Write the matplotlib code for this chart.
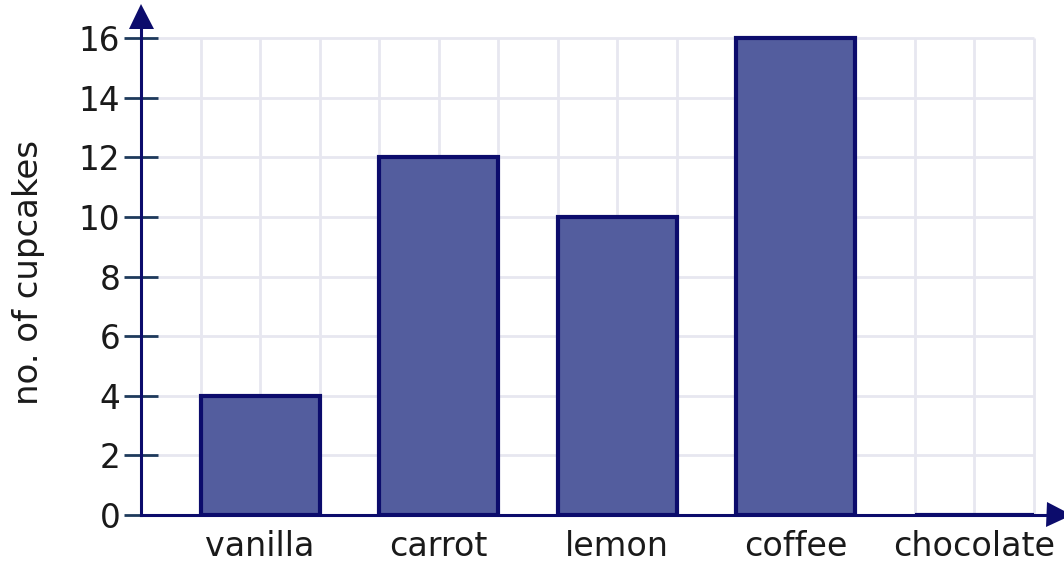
import matplotlib
matplotlib.use("Agg")
import matplotlib.pyplot as plt
import numpy as np

categories = ["vanilla", "carrot", "lemon", "coffee", "chocolate"]
values = [4, 12, 10, 16, 0]
yticks = [0, 2, 4, 6, 8, 10, 12, 14, 16]
ylabel = "no. of cupcakes"

W, H = 1064, 567
fig = plt.figure(figsize=(W / 100, H / 100), dpi=100)
plt.rcParams['font.family'] = ['DejaVu Sans']

x0_px, y0_px = 141, 515
ax = fig.add_axes([x0_px / W, (H - y0_px) / H, (W - x0_px) / W, (y0_px - 4) / H])
ppu_y = 29.8
ax.set_xlim(-2 / 3, -2 / 3 + (W - x0_px) / 178.6)
ax.set_ylim(0, (y0_px - 4) / ppu_y)

navy = "#0c0c6c"
grid_c = "#e7e7f0"
xr = len(categories) - 1 + 1 / 3

# grid
gx = [-2 / 3 + k / 3 for k in range(1, 3 * len(categories) + 1)]
ax.vlines(gx, 0, max(yticks), color=grid_c, lw=2.0, zorder=0)
ax.hlines(yticks[1:], -2 / 3, xr, color=grid_c, lw=2.0, zorder=0)

x = np.arange(len(categories))
ax.bar(x, values, width=2 / 3, color="#535d9e", edgecolor=navy, linewidth=3.0, zorder=3)

for s in ax.spines.values():
    s.set_visible(False)

# axes with arrows
ax.plot([-2 / 3, -2 / 3], [0, 16.55], color=navy, lw=2.2, clip_on=False, zorder=4)
ax.plot([-2 / 3, xr + 0.07], [0, 0], color=navy, lw=2.2, clip_on=False, zorder=4)
ax.plot([-2 / 3], [16.75], marker="^", markersize=18, color=navy, clip_on=False, zorder=5, mew=0)
ax.plot([xr + 0.14], [0], marker=">", markersize=18, color=navy, clip_on=False, zorder=5, mew=0)

ax.set_yticks(yticks)
ax.set_yticklabels([str(v) for v in yticks], fontsize=23.5, color="#1a1a1a")
ax.tick_params(axis="y", direction="inout", length=24, width=2.0, color="#1e3a5c", pad=3)
ax.set_xticks(x)
ax.set_xticklabels(categories, fontsize=24, color="#1a1a1a")
ax.tick_params(axis="x", length=0, pad=11)
ax.set_ylabel(ylabel, fontsize=24.5, color="#1a1a1a")
ax.yaxis.set_label_coords(-0.104, 0.4736)

fig.savefig("out.png", dpi=100)
